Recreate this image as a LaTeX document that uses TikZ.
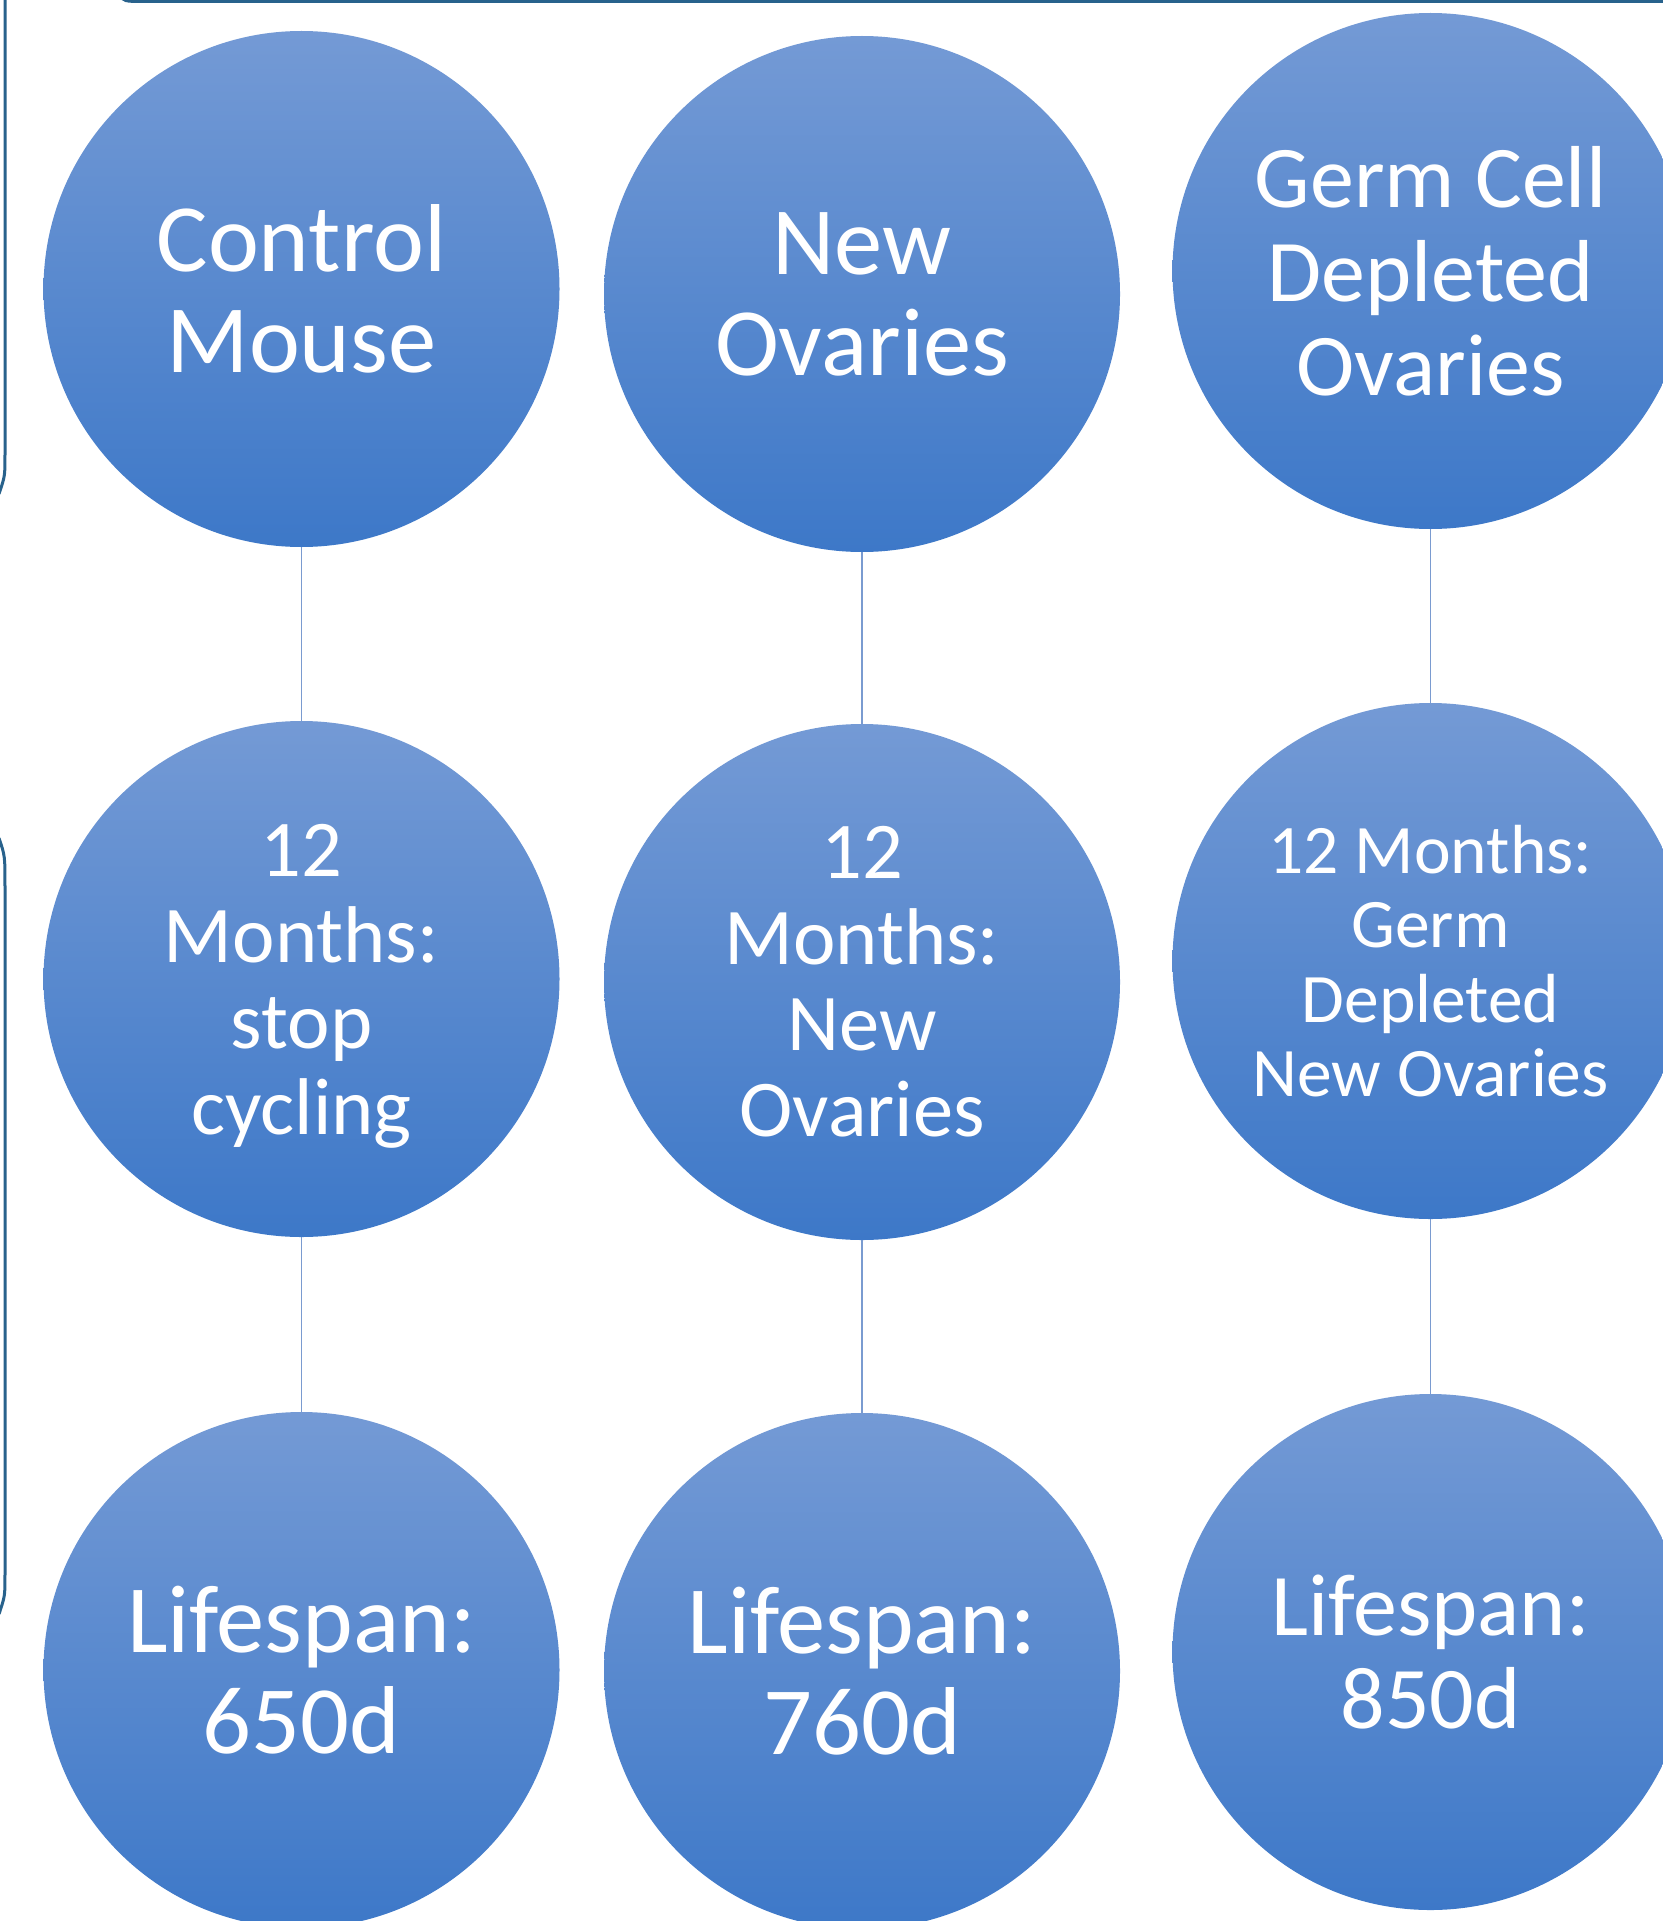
\documentclass[tikz,border=0pt]{standalone}
\usepackage{fontspec}
\setmainfont{Carlito}
\definecolor{frameblue}{RGB}{40,98,140}
\definecolor{linkblue}{RGB}{122,155,208}
\definecolor{ctop}{RGB}{116,154,213}
\definecolor{cmid}{RGB}{80,137,214}
\definecolor{cbot}{RGB}{61,120,200}
\tikzset{
  x=1pt, y=-1pt,
  bubble/.style={circle, minimum size=516pt, inner sep=0pt, top color=ctop, middle color=cmid, bottom color=cbot, draw=none, text=white, align=center},
  link/.style={draw=linkblue, line width=1.6pt},
  frameline/.style={draw=frameblue, line width=3pt},
  fA/.style={font=\fontsize{96.5}{101}\selectfont},
  fB/.style={font=\fontsize{88}{94}\selectfont},
  fC/.style={font=\fontsize{80.5}{86}\selectfont},
  fD/.style={font=\fontsize{69.5}{74.5}\selectfont},
  fE/.style={font=\fontsize{96.5}{101}\selectfont},
  fF/.style={font=\fontsize{88}{93}\selectfont}
}
\begin{document}
\begin{tikzpicture}
\useasboundingbox (0,0) rectangle (1662,1921);
\fill[white] (0,0) rectangle (1662,1921);
% frame fragments
\draw[frameline] (118,-6) .. controls (124,1.5) .. (145,1.5) -- (1670,1.5);
\draw[frameline] (5,-5) -- (5,455) .. controls (5,476) .. (-1,494);
\draw[frameline] (-1,838) .. controls (5,856) .. (5,886) -- (5,1575) .. controls (5,1596) .. (-1,1614);
% nodes
\node[bubble, fA] (c1) at (301.5,289) {Control\\Mouse};
\node[bubble, fA] (n1) at (862,294) {New\\Ovaries};
\node[bubble, fB] (g1) at (1430.5,271) {Germ Cell\\Depleted\\Ovaries};
\node[bubble, fC, text depth=0pt] (c2) at (301.5,979) {12\\Months:\\stop\\cycling};
\node[bubble, fC] (n2) at (862,982) {12\\Months:\\New\\Ovaries};
\node[bubble, fD] (g2) at (1430.5,961) {12 Months:\\Germ\\Depleted\\New Ovaries};
\node[bubble, fE] (c3) at (301.5,1670) {Lifespan:\\650d};
\node[bubble, fE] (n3) at (862,1671) {Lifespan:\\760d};
\node[bubble, fF] (g3) at (1430.5,1652) {Lifespan:\\850d};
% connectors
\draw[link] (c1.south) -- (c2.north);
\draw[link] (c2.south) -- (c3.north);
\draw[link] (n1.south) -- (n2.north);
\draw[link] (n2.south) -- (n3.north);
\draw[link] (g1.south) -- (g2.north);
\draw[link] (g2.south) -- (g3.north);
\end{tikzpicture}
\end{document}
